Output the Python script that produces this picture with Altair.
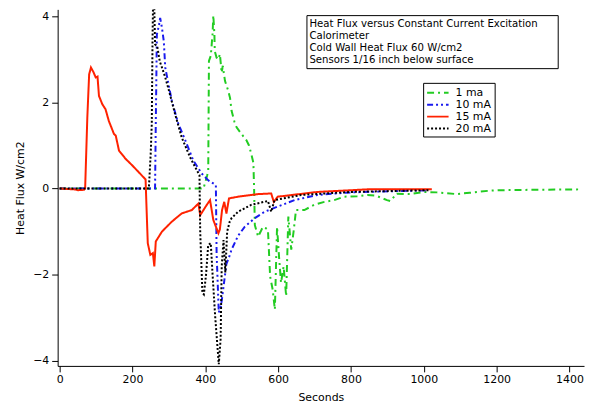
import altair as alt
import pandas as pd

series_names = ["1 ma", "10 mA", "15 mA", "20 mA"]
series_colors = ["#22cc22", "#1a1aee", "#ff2200", "#000000"]
series_dashes = [[7, 4, 2, 4], [6, 3, 2, 3, 2, 3], [1, 0], [2, 2]]

x_ticks = [0, 200, 400, 600, 800, 1000, 1200, 1400]
y_ticks = [-4, -2, 0, 2, 4]

t_1ma = [0, 395, 405, 408, 410, 415, 420, 422, 425, 426, 431, 436, 440, 445, 448, 454, 463, 468,
         472, 480, 486, 499, 513, 520, 526, 532, 534, 536, 545, 552, 558, 566, 572, 578, 585, 591,
         597, 603, 608, 615, 622, 628, 636, 643, 649, 672, 699, 727, 754, 781, 817, 845, 870, 899,
         908, 926, 963, 999, 1036, 1090, 1126, 1181, 1208, 1300, 1427]
v_1ma = [0, 0, 0.3, 0.4, 2.96, 3.08, 3.6, 4.02, 3.58, 3.19, 3.04, 3.0, 3.12, 2.69, 2.85, 2.5, 2.27, 2.1,
         1.81, 1.55, 1.42, 1.27, 1.12, 1.0, 0.81, 0.6, 0.0, -0.85, -1.12, -1.0, -0.89, -0.92, -0.96,
         -2.04, -2.35, -2.81, -0.89, -1.65, -2.19, -1.81, -2.5, -0.65, -1.42, -0.96, -0.5, -0.5, -0.38,
         -0.31, -0.27, -0.19, -0.18, -0.15, -0.17, -0.27, -0.29, -0.12, -0.13, -0.08, -0.09, -0.13, -0.1,
         -0.05, -0.04, -0.03, -0.02]

t_10ma = [0, 262, 264, 267, 273, 276, 281, 286, 290, 299, 308, 326, 345, 367, 390, 408, 429, 431,
          437, 443, 449, 458, 465, 472, 490, 508, 536, 563, 599, 645, 708, 799, 1010]
v_10ma = [0, 0, 1.5, 3.58, 3.8, 3.96, 3.73, 3.42, 2.81, 2.42, 2.04, 1.5, 1.12, 0.65, 0.35, 0.19, 0.08, -1.5,
          -2.88, -2.73, -2.35, -1.75, -1.6, -1.42, -1.1, -0.89, -0.69, -0.54, -0.42, -0.27, -0.15, -0.09, -0.04]

t_15ma = [0, 40, 50, 67, 70, 76, 81, 86, 93, 99, 104, 108, 117, 126, 135, 149, 154, 163, 181, 199, 217,
          236, 238, 242, 249, 256, 260, 264, 281, 308, 335, 363, 381, 386, 404, 413, 422, 436, 440, 446,
          452, 458, 465, 490, 545, 581, 588, 599, 708, 845, 1022]
v_15ma = [0, -0.02, -0.04, -0.03, 0, 1.65, 2.65, 2.81, 2.7, 2.58, 2.6, 2.15, 1.96, 1.84, 1.57, 1.27, 1.23,
          0.88, 0.69, 0.54, 0.38, 0.21, -0.3, -1.27, -1.54, -1.5, -1.81, -1.23, -1.0, -0.77, -0.58, -0.5,
          -0.35, -0.62, -0.38, -0.27, -0.73, -1.04, -0.95, -0.5, -0.31, -0.58, -0.23, -0.19, -0.13, -0.115,
          -0.31, -0.19, -0.08, -0.02, -0.02]

t_20ma = [0, 245, 250, 253, 255, 257, 259, 262, 268, 275, 281, 290, 299, 317, 335, 358, 372, 384, 386,
          392, 396, 402, 408, 415, 420, 427, 437, 442, 445, 450, 455, 460, 467, 472, 490, 499, 526, 536,
          572, 581, 590, 663, 798, 1013]
v_20ma = [0, 0, 0.8, 1.5, 3.4, 4.6, 4.6, 3.35, 3.3, 2.95, 2.81, 2.58, 2.31, 1.73, 1.19, 0.73, 0.5, 0.31, -1.0,
          -2.42, -2.46, -2.0, -1.31, -1.27, -2.0, -2.96, -4.08, -3.5, -1.81, -1.2, -1.95, -1.0, -0.77, -0.69,
          -0.54, -0.5, -0.38, -0.36, -0.29, -0.54, -0.27, -0.15, -0.08, -0.04]

title_lines = [
    "Heat Flux versus Constant Current Excitation",
    "Calorimeter",
    "Cold Wall Heat Flux 60 W/cm2",
    "Sensors 1/16 inch below surface",
]

rows = []
for name, ts, vs in [("1 ma", t_1ma, v_1ma), ("10 mA", t_10ma, v_10ma),
                     ("15 mA", t_15ma, v_15ma), ("20 mA", t_20ma, v_20ma)]:
    for i, (t, v) in enumerate(zip(ts, vs)):
        rows.append({"series": name, "t": t, "v": v, "order": i})
df = pd.DataFrame(rows)

FONT = "DejaVu Sans"

legend_spec = dict(title=None, orient="none", legendX=368, legendY=74)

lines = alt.Chart(df).mark_line(strokeWidth=2, clip=True).encode(
    x=alt.X("t:Q", scale=alt.Scale(domain=[-5.45, 1440], nice=False, zero=False),
            axis=alt.Axis(values=x_ticks, format="d", title="Seconds", grid=False, tickSize=6,
                          labelPadding=2, titlePadding=7)),
    y=alt.Y("v:Q", scale=alt.Scale(domain=[-4.12, 4.16], nice=False, zero=False),
            axis=alt.Axis(values=y_ticks, format="d", title="Heat Flux W/cm2", grid=False, tickSize=6,
                          labelPadding=3, titlePadding=7)),
    color=alt.Color("series:N", scale=alt.Scale(domain=series_names, range=series_colors),
                    legend=alt.Legend(**legend_spec)),
    strokeDash=alt.StrokeDash("series:N", scale=alt.Scale(domain=series_names, range=series_dashes),
                              legend=alt.Legend(**legend_spec)),
    order="order:Q",
)

one = alt.Data(values=[{"k": 1}])
box = alt.Chart(one).mark_rect(fill="white", stroke="black", strokeWidth=1).encode(
    x=alt.value(251), x2=alt.value(504), y=alt.value(6.3), y2=alt.value(59.7)
)
txt = alt.Chart(one).mark_text(
    text=title_lines, align="left", baseline="top", font=FONT, fontSize=10.2,
    lineHeight=12.2, color="black"
).encode(x=alt.value(253.5), y=alt.value(9.5))

chart = alt.layer(box, txt, lines).properties(
    width=530, height=359,
    autosize=alt.AutoSizeParams(type="none"),
    padding={"left": 50, "top": 0, "right": 5, "bottom": 40},
).configure_view(stroke=None).configure_axis(
    domainColor="black", tickColor="black", labelColor="black", titleColor="black",
    labelFont=FONT, titleFont=FONT, labelFontSize=11, titleFontSize=11,
    titleFontWeight="normal", domainWidth=1, tickWidth=1,
).configure_legend(
    strokeColor="black", fillColor="white", padding=3, symbolType="M-1,0H2.6",
    symbolStrokeWidth=2, symbolSize=144, labelFont=FONT, labelFontSize=11,
    labelColor="black", labelOffset=15.6, rowPadding=0,
)

chart.save("out.html", embed_options={"renderer": "svg", "actions": False})
